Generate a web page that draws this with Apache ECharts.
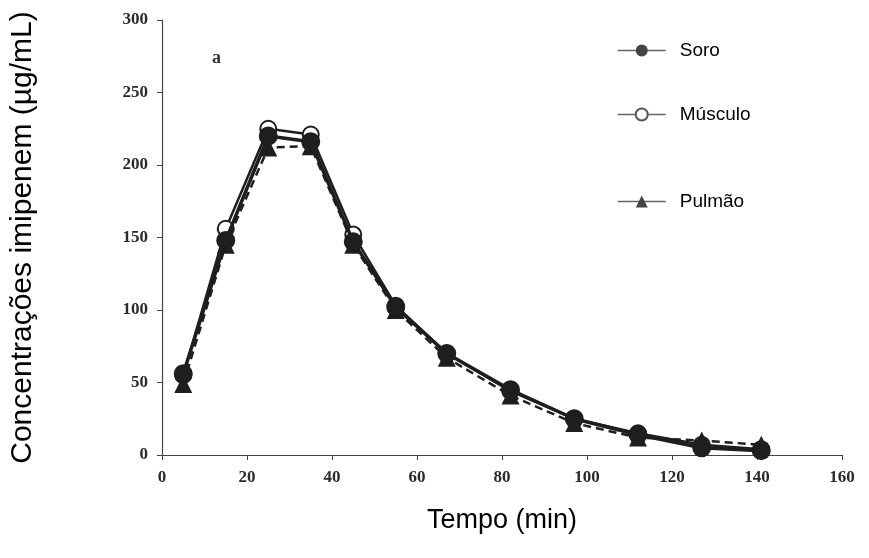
<!DOCTYPE html>
<html>
<head>
<meta charset="utf-8">
<script src="https://cdn.jsdelivr.net/npm/echarts@6/dist/echarts.min.js"></script>
<style>
  html, body { margin: 0; padding: 0; background: #fff; }
  #chart { width: 869px; height: 558px; }
</style>
</head>
<body>
<div id="chart"></div>
<script>
// tempo (min)
const tempo = [5, 15, 25, 35, 45, 55, 67, 82, 97, 112, 127, 141]
// concentrações (µg/mL)
const soro = [56, 148, 220, 216, 147, 102, 70, 45, 25, 14, 5, 3]
const musculo = [55, 156, 225, 221, 152, 103, 70, 44, 25, 15, 7, 4]
const pulmao = [49, 145, 212, 213, 145, 100, 67, 41, 22, 12, 10, 7]

const toPairs = (ys) => tempo.map((t, i) => [t, ys[i]])

const cor = '#1e1e1e'
const rotuloEixo = { fontFamily: 'Liberation Serif', fontWeight: 'bold', fontSize: 17, color: '#2a2a2a' }

// legendas separadas, para espaçamento irregular
const legenda = (item, top) => ({
  data: [item],
  left: 612,
  top: top,
  orient: 'vertical',
  itemWidth: 48,
  itemHeight: 15,
  itemGap: 0,
  textStyle: { fontFamily: 'Liberation Sans', fontSize: 19, color: '#000', padding: [0, 0, 0, 9] },
  lineStyle: { width: 1.5, color: '#666', type: 'solid' }
})

const chart = echarts.init(document.getElementById('chart'))

chart.setOption({
  animation: false,
  backgroundColor: '#fff',
  title: {
    text: 'a',
    left: 207,
    top: 44,
    textStyle: { fontFamily: 'Liberation Serif', fontWeight: 'bold', fontSize: 18, color: '#333' }
  },
  legend: [
    legenda({ name: 'Soro', itemStyle: { color: '#444' } }, 36),
    legenda({ name: 'Músculo', itemStyle: { color: '#555' } }, 100),
    legenda({ name: 'Pulmão', itemStyle: { color: '#444' } }, 187)
  ],
  grid: { left: 162, right: 27, top: 20, bottom: 103, outerBoundsMode: 'none' },
  xAxis: {
    type: 'value',
    min: 0,
    max: 160,
    interval: 20,
    name: 'Tempo (min)',
    nameLocation: 'middle',
    nameGap: 52,
    nameTextStyle: { fontFamily: 'Liberation Sans', fontSize: 27, color: '#000' },
    axisLine: { show: true, lineStyle: { color: '#444', width: 1.2 } },
    axisTick: { show: true, inside: false, length: 5, lineStyle: { color: '#444' } },
    axisLabel: Object.assign({ margin: 14 }, rotuloEixo),
    splitLine: { show: false }
  },
  yAxis: {
    type: 'value',
    min: 0,
    max: 300,
    interval: 50,
    name: 'Concentrações imipenem (µg/mL)',
    nameLocation: 'middle',
    nameGap: 124,
    nameTextStyle: { fontFamily: 'Liberation Sans', fontSize: 30, color: '#000' },
    axisLine: { show: true, lineStyle: { color: '#444', width: 1.2 } },
    axisTick: { show: true, inside: false, length: 5, lineStyle: { color: '#444' } },
    axisLabel: Object.assign({ margin: 14 }, rotuloEixo),
    splitLine: { show: false }
  },
  series: [
    {
      name: 'Músculo',
      type: 'line',
      data: toPairs(musculo),
      symbol: 'emptyCircle',
      symbolSize: 16,
      itemStyle: { color: cor, borderWidth: 3 },
      lineStyle: { color: cor, width: 2.5 },
      z: 2
    },
    {
      name: 'Pulmão',
      type: 'line',
      data: toPairs(pulmao),
      symbol: 'triangle',
      symbolSize: 18,
      itemStyle: { color: cor },
      lineStyle: { color: cor, width: 2.5, type: [8, 5] },
      z: 3
    },
    {
      name: 'Soro',
      type: 'line',
      data: toPairs(soro),
      symbol: 'circle',
      symbolSize: 19,
      itemStyle: { color: cor },
      lineStyle: { color: cor, width: 3.5 },
      z: 4
    }
  ]
})
</script>
</body>
</html>
